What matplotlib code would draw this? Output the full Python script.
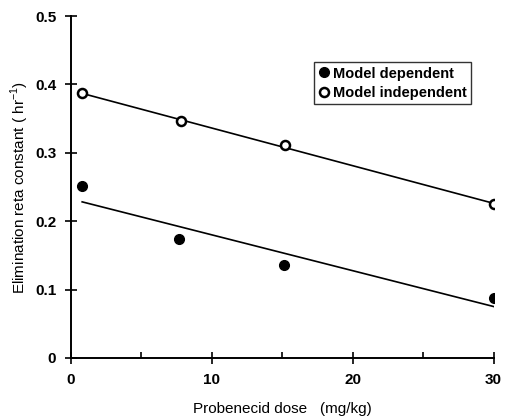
import numpy as np
import matplotlib
matplotlib.use("Agg")
import matplotlib.pyplot as plt
from matplotlib.ticker import MultipleLocator

plt.rcParams['font.family'] = ['Liberation Sans', 'DejaVu Sans']

dose_dep = [0.8, 7.7, 15.1, 30.0]
k_dep = [0.251, 0.174, 0.136, 0.088]
dose_ind = [0.8, 7.8, 15.2, 30.0]
k_ind = [0.387, 0.346, 0.311, 0.225]

x_ticks = [0, 10, 20, 30]
y_ticks = [0, 0.1, 0.2, 0.3, 0.4, 0.5]
y_tick_labels = ['0', '0.1', '0.2', '0.3', '0.4', '0.5']

fig = plt.figure(figsize=(5.1, 4.17), dpi=100)
ax = fig.add_axes([0.139, 0.1415, 0.829, 0.820])

# regression lines
for xs, ys in [(dose_dep, k_dep), (dose_ind, k_ind)]:
    p = np.polyfit(xs, ys, 1)
    xl = np.array([xs[0], xs[-1]])
    ax.plot(xl, np.polyval(p, xl), color='black', lw=1.2, zorder=2)

ax.plot(dose_dep, k_dep, 'o', color='black', ms=7, label='Model dependent', zorder=3)
ax.plot(dose_ind, k_ind, 'o', mfc='white', mec='black', mew=1.8, ms=6.5,
        label='Model independent', zorder=3)

ax.set_xlim(0, 30)
ax.set_ylim(0, 0.5)
ax.set_xticks(x_ticks)
ax.set_xticklabels([str(v) for v in x_ticks], fontweight='bold')
ax.set_yticks(y_ticks)
ax.set_yticklabels(y_tick_labels, fontweight='bold')
ax.xaxis.set_minor_locator(MultipleLocator(5))

for s in ['top', 'right']:
    ax.spines[s].set_visible(False)
for s in ['left', 'bottom']:
    ax.spines[s].set_linewidth(1.4)

ax.tick_params(axis='both', which='major', direction='inout', length=9, width=1.2,
               labelsize=11, pad=6)
ax.tick_params(axis='x', which='minor', direction='in', length=4, width=1.2)

ax.set_xlabel('Probenecid dose   (mg/kg)', fontsize=11, labelpad=11)
ax.set_ylabel('Elimination reta constant ( hr$^{\\mathregular{-1}}$)', fontsize=11, labelpad=3)

leg = ax.legend(loc='upper left', bbox_to_anchor=(0.575, 0.865), frameon=True,
                fancybox=False, edgecolor='black', fontsize=10.5, handletextpad=0.2,
                handlelength=0.8, borderpad=0.3, labelspacing=0.35, borderaxespad=0)
leg.get_frame().set_linewidth(1.0)
for t in leg.get_texts():
    t.set_fontweight('bold')

fig.savefig('out.png', dpi=100)
